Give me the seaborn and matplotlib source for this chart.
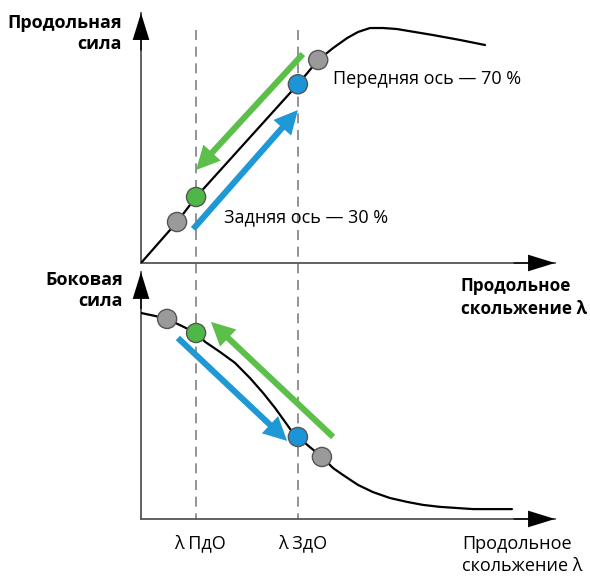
import matplotlib
matplotlib.use("Agg")
import matplotlib.pyplot as plt
import pandas as pd
import seaborn as sns

# slip (lambda) positions of the two axles
LAMBDA_FRONT = 1.33   # λ ПдО
LAMBDA_REAR = 3.79    # λ ЗдО

# longitudinal force curve (top panel)
long_slip = [0.0, 0.87, 1.33, 3.79, 4.28, 4.64, 4.98, 5.24, 5.53, 5.85, 6.18, 7.05, 7.71, 8.31]
long_force = [0.0, 0.164, 0.264, 0.715, 0.812, 0.860, 0.900, 0.924, 0.940, 0.940, 0.936,
              0.912, 0.892, 0.872]

# lateral force curve (bottom panel)
lat_slip = [0.0, 0.34, 0.63, 0.99, 1.33, 1.55, 1.91, 2.27, 2.63, 2.95, 3.24, 3.48, 3.67,
            3.79, 4.08, 4.37, 4.64, 4.88, 5.24, 5.60, 6.01, 6.43, 6.81, 7.22, 8.02, 8.96]
lat_force = [0.834, 0.822, 0.810, 0.781, 0.753, 0.717, 0.676, 0.632, 0.571, 0.510, 0.449,
             0.393, 0.348, 0.332, 0.291, 0.251, 0.206, 0.178, 0.138, 0.109, 0.085, 0.069,
             0.057, 0.049, 0.040, 0.040]

# operating points: gray, green (front), blue (rear), gray
point_kind = ["gray", "green", "blue", "gray"]
long_pt_slip = [0.87, 1.33, 3.79, 4.28]
long_pt_force = [0.164, 0.264, 0.715, 0.812]
lat_pt_slip = [0.63, 1.33, 3.79, 4.37]
lat_pt_force = [0.810, 0.753, 0.332, 0.251]

# arrows (start -> end)
long_green_arrow = [(3.91, 0.836), (1.33, 0.372)]
long_blue_arrow = [(1.26, 0.136), (3.79, 0.612)]
lat_green_arrow = [(4.64, 0.332), (1.69, 0.798)]
lat_blue_arrow = [(0.89, 0.733), (3.53, 0.316)]

COLORS = {"gray": "#9a9a9a", "green": "#4fb748", "blue": "#1b95d8"}
ARROW_GREEN = "#5cbf4a"
ARROW_BLUE = "#1f98d6"
AXIS_GRAY = "#555555"


def setup_axes(ax):
    ax.set_xlim(0, 10)
    ax.set_ylim(0, 1)
    ax.patch.set_visible(False)
    for side in ("top", "right"):
        ax.spines[side].set_visible(False)
    for side in ("left", "bottom"):
        ax.spines[side].set_color(AXIS_GRAY)
        ax.spines[side].set_linewidth(1.3)
    ax.set_xticks([])
    ax.set_yticks([])
    head = dict(arrowstyle="simple,head_length=0.97,head_width=0.6,tail_width=0.05",
                mutation_scale=20, color="black", lw=0, shrinkA=0, shrinkB=0)
    ax.annotate("", xy=(10, 0), xytext=(9.0, 0), arrowprops=head, annotation_clip=False)
    ax.annotate("", xy=(0, 1), xytext=(0, 0.85), arrowprops=head, annotation_clip=False)


def draw_arrow(ax, arrow, color):
    (x0, y0), (x1, y1) = arrow
    ax.annotate("", xy=(x1, y1), xytext=(x0, y0),
                arrowprops=dict(arrowstyle="simple,head_length=0.85,head_width=0.85,tail_width=0.22",
                                mutation_scale=20, color=color, lw=0, shrinkA=0, shrinkB=0),
                annotation_clip=False)


def draw_points(ax, xs, ys):
    df = pd.DataFrame({"slip": xs, "force": ys, "kind": point_kind})
    sns.scatterplot(data=df, x="slip", y="force", hue="kind", palette=COLORS,
                    s=190, edgecolor="#555555", linewidth=1.0, legend=False,
                    zorder=5, ax=ax, clip_on=False)


def main():
    sns.set_theme(style="white")
    plt.rcParams["font.family"] = ["Open Sans", "DejaVu Sans"]
    plt.rcParams["text.color"] = "black"

    fig = plt.figure(figsize=(5.9, 5.76), dpi=100)
    ax_top = fig.add_axes([0.2390, 0.5434, 0.7017, 0.4340])
    ax_bot = fig.add_axes([0.2390, 0.0990, 0.7017, 0.4288])

    for ax in (ax_top, ax_bot):
        setup_axes(ax)

    # dashed slip lines crossing both panels
    for lam in (LAMBDA_FRONT, LAMBDA_REAR):
        ax_top.plot([lam, lam], [0.932, -1.024], color="#808080", lw=1.2,
                    dashes=(6, 4), clip_on=False, zorder=1)

    # top panel
    sns.lineplot(x=long_slip, y=long_force, sort=False, estimator=None,
                 color="black", lw=1.6, ax=ax_top, zorder=3)
    draw_arrow(ax_top, long_green_arrow, ARROW_GREEN)
    draw_arrow(ax_top, long_blue_arrow, ARROW_BLUE)
    draw_points(ax_top, long_pt_slip, long_pt_force)

    # bottom panel
    sns.lineplot(x=lat_slip, y=lat_force, sort=False, estimator=None,
                 color="black", lw=1.6, ax=ax_bot, zorder=3)
    draw_arrow(ax_bot, lat_green_arrow, ARROW_GREEN)
    draw_arrow(ax_bot, lat_blue_arrow, ARROW_BLUE)
    draw_points(ax_bot, lat_pt_slip, lat_pt_force)

    for ax in (ax_top, ax_bot):
        ax.set_xlabel("")
        ax.set_ylabel("")

    fs = 13
    ax_top.text(4.64, 0.736, "Передняя ось — 70 %", fontsize=fs, ha="left", va="center")
    ax_top.text(2.0, 0.184, "Задняя ось — 30 %", fontsize=fs, ha="left", va="center")
    ax_top.text(-0.46, 0.918, "Продольная\nсила", fontsize=fs, fontweight="bold",
                ha="right", va="center", multialignment="right", linespacing=1.25)
    ax_top.text(7.72, -0.138, "Продольное\nскольжение λ", fontsize=12.3, fontweight="bold",
                ha="left", va="center", linespacing=1.3)

    ax_bot.text(-0.43, 0.925, "Боковая\nсила", fontsize=fs, fontweight="bold",
                ha="right", va="center", multialignment="right", linespacing=1.25)
    ax_bot.text(1.43, -0.097, "λ ПдО", fontsize=fs, ha="center", va="center")
    ax_bot.text(3.91, -0.097, "λ ЗдО", fontsize=fs, ha="center", va="center")
    ax_bot.text(7.75, -0.146, "Продольное\nскольжение λ", fontsize=fs,
                ha="left", va="center", linespacing=1.25)

    fig.savefig("out.png", dpi=100)


if __name__ == "__main__":
    main()
